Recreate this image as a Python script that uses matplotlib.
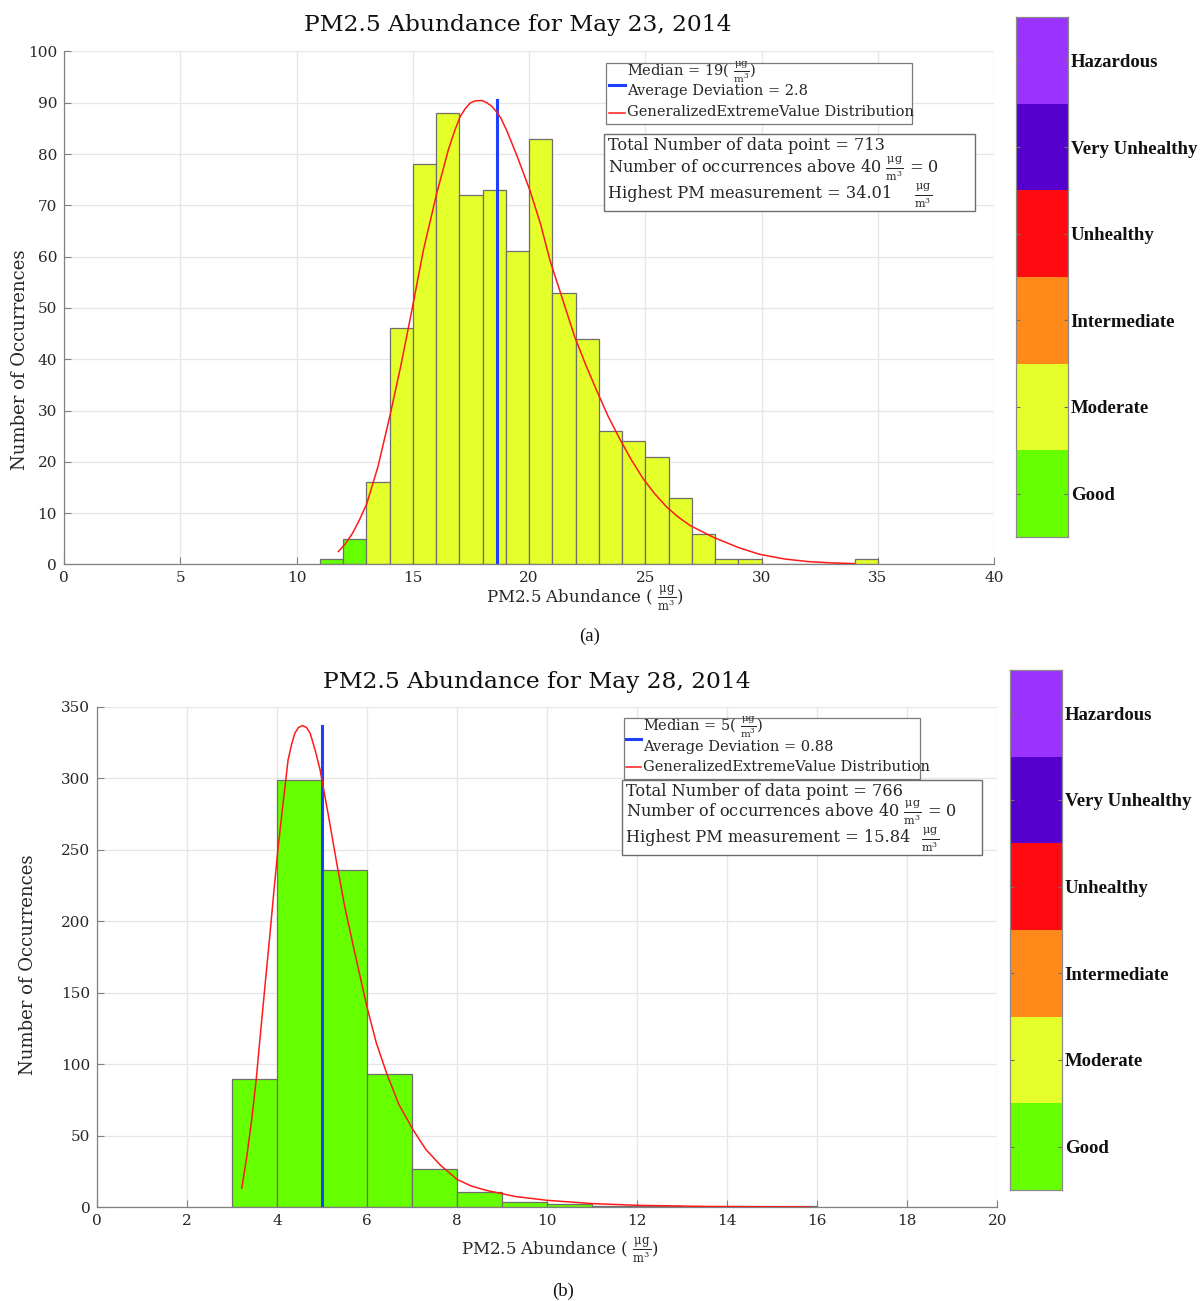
import matplotlib
matplotlib.use('Agg')
import matplotlib.pyplot as plt
from matplotlib.lines import Line2D
from matplotlib.patches import Rectangle

plt.rcParams['font.family'] = ['DejaVu Serif']
plt.rcParams['mathtext.fontset'] = 'dejavuserif'

# ---------------- data ----------------
aqi_levels = ['Good', 'Moderate', 'Intermediate', 'Unhealthy', 'Very Unhealthy', 'Hazardous']
aqi_colors = ['#66ff00', '#e5ff2b', '#ff8a1a', '#ff0a10', '#5500cc', '#9b33ff']

# (a) May 23, 2014
a_title = 'PM2.5 Abundance for May 23, 2014'
a_bin_left = [11, 12, 13, 14, 15, 16, 17, 18, 19, 20, 21, 22, 23, 24, 25, 26, 27, 28, 29, 30, 31, 32, 33, 34]
a_counts = [1, 5, 16, 46, 78, 88, 72, 73, 61, 83, 53, 44, 26, 24, 21, 13, 6, 1, 1, 0, 0, 0, 0, 1]
a_bar_colors = ['#66ff00', '#66ff00'] + ['#e5ff2b'] * 22
a_fit_x = [11.80, 12.1, 12.4, 12.7, 13.02, 13.5, 14.02, 14.5, 14.96, 15.46, 16.03, 16.53, 16.8, 17.03,
           17.25, 17.46, 17.64, 17.82, 18.0, 18.18, 18.4, 18.61, 18.8, 19.04, 19.47, 20.04, 20.5,
           20.9, 21.45, 21.97, 22.45, 22.91, 23.4, 23.91, 24.4, 24.91, 25.4, 25.92, 26.4, 26.92,
           27.92, 29.0, 29.93, 31.0, 32.0, 33.0, 34.0]
a_fit_y = [2.5, 4.0, 6.0, 8.6, 11.8, 19.0, 29.0, 39.0, 49.5, 61.3, 72.3, 80.8, 84.5, 87.2,
           88.8, 89.9, 90.3, 90.4, 90.4, 90.0, 89.3, 88.2, 86.9, 84.6, 79.8, 72.9, 66.3,
           59.3, 51.6, 44.3, 38.8, 33.9, 28.9, 24.4, 20.4, 16.7, 13.8, 11.2, 9.3, 7.6,
           5.3, 3.3, 1.95, 1.05, 0.55, 0.3, 0.15]
a_median = 18.64
a_median_top = 90.6
a_median_label = '19'
a_avg_dev = '2.8'
a_total = 713
a_above40 = 0
a_highest = '34.01'

# (b) May 28, 2014
b_title = 'PM2.5 Abundance for May 28, 2014'
b_bin_left = [3, 4, 5, 6, 7, 8, 9, 10, 11, 12, 13, 14, 15]
b_counts = [90, 299, 236, 93, 27, 11, 4, 2, 1, 1, 0, 1, 1]
b_bar_colors = ['#66ff00'] * 8 + ['#a0201a', '#a0201a', '#a0201a', '#ff8a1a', '#ff8a1a']
b_fit_x = [3.21, 3.32, 3.43, 3.53, 3.62, 3.73, 3.84, 3.93, 4.02, 4.13, 4.24, 4.32, 4.39, 4.47,
           4.56, 4.65, 4.73, 4.84, 4.95, 5.13, 5.32, 5.5, 5.69, 5.85, 5.99, 6.2, 6.43, 6.7,
           7.02, 7.3, 7.62, 7.99, 8.3, 8.65, 9.3, 9.99, 11.0, 11.99, 13.5, 15.84]
b_fit_y = [13.3, 35.0, 61.0, 89.0, 119.6, 156.0, 192.0, 223.0, 252.1, 283.0, 312.9, 324.0, 331.5, 335.5,
           336.9, 335.5, 331.5, 319.8, 306.0, 275.0, 240.8, 210.0, 182.5, 160.0, 140.4, 115.0, 93.7, 72.0,
           54.0, 40.5, 29.6, 19.6, 15.0, 11.8, 7.5, 4.9, 2.6, 1.4, 0.6, 0.2]
b_median = 5.0
b_median_top = 336.6
b_median_label = '5'
b_avg_dev = '0.88'
b_total = 766
b_above40 = 0
b_highest = '15.84'

W, H = 1203, 1301
fig = plt.figure(figsize=(W / 100, H / 100), dpi=100)

UNIT = r'$\frac{\mathrm{μg}}{\mathrm{m}^{3}}$'
GRID = '#e6e6e6'
AXC = '#808080'
TXT = '#262626'
BLUE = '#1f3fff'
RED = '#ff1a1a'


def fx(px):
    return px / W


def fy(py):
    return 1 - py / H


def ftext(px, py, s, **kw):
    return fig.text(fx(px), fy(py), s, **kw)


def fbox(x0, y0, x1, y1, ec, lw=1.0):
    fig.add_artist(Rectangle((fx(x0), fy(y1)), fx(x1) - fx(x0), fy(y0) - fy(y1),
                             transform=fig.transFigure, fc='white', ec=ec, lw=lw, zorder=5))


def fline(x0, x1, py, color, lw):
    fig.add_artist(Line2D([fx(x0), fx(x1)], [fy(py), fy(py)], transform=fig.transFigure,
                          color=color, lw=lw, zorder=6))


def draw_panel(px_box, bin_left, counts, colors, fit_x, fit_y, median, median_top,
               median_label, avg_dev, total, above40, highest, title, xlim, xticks,
               ylim, yticks, title_xy, xlabel_xy, ylabel_xy, leg, box, sub_label, sub_xy):
    x0, y0, x1, y1 = px_box
    ax = fig.add_axes([fx(x0), fy(y1), fx(x1) - fx(x0), fy(y0) - fy(y1)])
    ax.bar(bin_left, counts, width=1.0, align='edge', color=colors,
           edgecolor='#6e6e6e', linewidth=0.9, zorder=2)
    ax.plot(fit_x, fit_y, color=RED, lw=1.1, zorder=4)
    ax.plot([median, median], [0, median_top], color=BLUE, lw=2.2, zorder=3)
    ax.set_xlim(*xlim)
    ax.set_ylim(*ylim)
    ax.set_xticks(xticks)
    ax.set_yticks(yticks)
    ax.grid(True, color=GRID, lw=0.9, zorder=0)
    ax.set_axisbelow(True)
    for s in ['top', 'right']:
        ax.spines[s].set_visible(False)
    for s in ['left', 'bottom']:
        ax.spines[s].set_color(AXC)
        ax.spines[s].set_linewidth(0.9)
    ax.tick_params(direction='in', length=5, color=AXC, labelsize=11, labelcolor=TXT, pad=5)

    ftext(title_xy[0], title_xy[1], title, ha='center', va='center', fontsize=16.8, color='#111111')
    ftext(xlabel_xy[0], xlabel_xy[1], 'PM2.5 Abundance ( ' + UNIT + ')',
          ha='center', va='center', fontsize=12, color=TXT)
    ftext(ylabel_xy[0], ylabel_xy[1], 'Number of Occurrences', rotation=90,
          ha='center', va='center', fontsize=13, color=TXT)

    # legend box (drawn manually)
    lx0, ly0, lx1, ly1, hx0, hx1, tx, ty1, ty2, ty3, hb, hr = leg
    fbox(lx0, ly0, lx1, ly1, '#7a7a7a', 0.9)
    fline(hx0, hx1, hb, BLUE, 2.2)
    fline(hx0, hx1, hr, RED, 1.1)
    ftext(tx, ty1, 'Median = ' + median_label + '( ' + UNIT + ')', ha='left', va='center',
          fontsize=10.5, color=TXT, zorder=7)
    ftext(tx, ty2, 'Average Deviation = ' + avg_dev, ha='left', va='center',
          fontsize=10.5, color=TXT, zorder=7)
    ftext(tx, ty3, 'GeneralizedExtremeValue Distribution', ha='left', va='center',
          fontsize=10.5, color=TXT, zorder=7)

    # info box (drawn manually)
    bx0, by0, bx1, by1, btx, b1, b2, b3, fracx = box
    fbox(bx0, by0, bx1, by1, '#6e6e6e', 1.0)
    ftext(btx, b1, 'Total Number of data point = ' + str(total), ha='left', va='center',
          fontsize=11.6, color=TXT, zorder=7)
    ftext(btx, b2, 'Number of occurrences above 40 ' + UNIT + ' = ' + str(above40),
          ha='left', va='center', fontsize=11.6, color=TXT, zorder=7)
    ftext(btx, b3, 'Highest PM measurement = ' + highest, ha='left', va='center',
          fontsize=11.6, color=TXT, zorder=7)
    ftext(fracx, b3 + 3, UNIT, ha='left', va='center', fontsize=11.6, color=TXT, zorder=7)

    ftext(sub_xy[0], sub_xy[1], sub_label, ha='center', va='center', fontsize=13.5,
          color='#111111', family='Liberation Serif')
    return ax


def draw_colorbar(px_box):
    x0, y0, x1, y1 = px_box
    cax = fig.add_axes([fx(x0), fy(y1), fx(x1) - fx(x0), fy(y0) - fy(y1)])
    cax.bar([0.5] * len(aqi_levels), [1] * len(aqi_levels), width=1.0,
            bottom=list(range(len(aqi_levels))), color=aqi_colors, edgecolor='none')
    cax.set_xlim(0, 1)
    cax.set_ylim(0, len(aqi_levels))
    cax.set_xticks([])
    cax.set_yticks([i + 0.5 for i in range(len(aqi_levels))])
    cax.set_yticklabels(aqi_levels, fontsize=13.5, fontweight='bold', color='#111111',
                        family='Liberation Serif')
    cax.yaxis.tick_right()
    cax.tick_params(axis='y', direction='in', length=3, color='#707070', left=True, right=True, pad=2)
    for s in cax.spines.values():
        s.set_color('#8a8a8a')
        s.set_linewidth(0.9)


# (a)
draw_panel((64, 51.4, 994, 564.4),
           a_bin_left, a_counts, a_bar_colors, a_fit_x, a_fit_y, a_median, a_median_top,
           a_median_label, a_avg_dev, a_total, a_above40, a_highest, a_title,
           (0, 40), list(range(0, 41, 5)), (0, 100), list(range(0, 101, 10)),
           title_xy=(518, 25), xlabel_xy=(585, 598), ylabel_xy=(20, 360),
           leg=(606, 63, 912, 124, 609, 625, 627, 72, 91, 112, 85, 113),
           box=(604, 134, 975, 211, 608, 145, 169, 193, 914),
           sub_label='(a)', sub_xy=(590, 636))
draw_colorbar((1016, 17, 1068, 537))

# (b)
draw_panel((97.3, 706.8, 997.3, 1207.3),
           b_bin_left, b_counts, b_bar_colors, b_fit_x, b_fit_y, b_median, b_median_top,
           b_median_label, b_avg_dev, b_total, b_above40, b_highest, b_title,
           (0, 20), list(range(0, 21, 2)), (0, 350), list(range(0, 351, 50)),
           title_xy=(537, 682), xlabel_xy=(560, 1250), ylabel_xy=(28, 965),
           leg=(624, 718, 920, 779, 626, 641, 643, 727, 747, 767, 739, 767),
           box=(622, 780, 982, 855, 626, 791, 813, 837, 921),
           sub_label='(b)', sub_xy=(563, 1291))
draw_colorbar((1010, 670, 1062, 1190))

fig.savefig('out.png', dpi=100)
